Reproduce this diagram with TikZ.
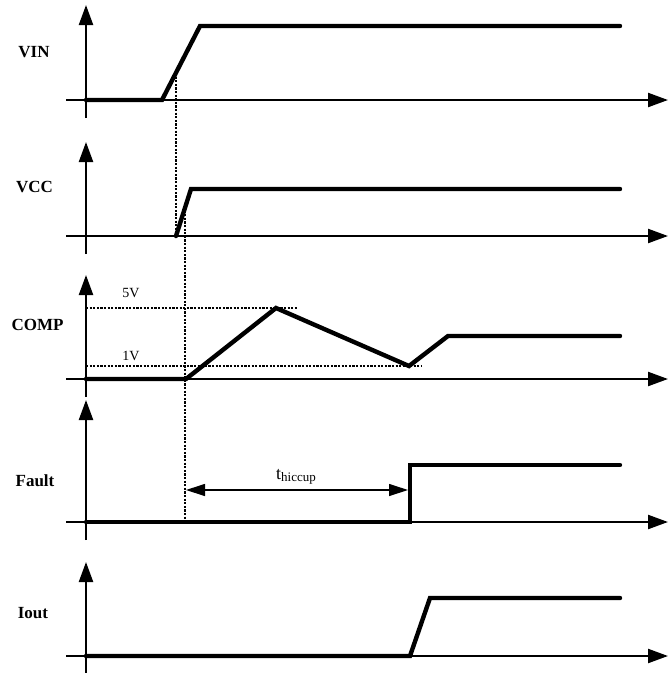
\documentclass[tikz,border=0pt]{standalone}
\usepackage{fontspec}
\setmainfont{Liberation Serif}
\usetikzlibrary{arrows.meta}
\begin{document}
\begin{tikzpicture}[x=1pt,y=-1pt,
  axis/.style={line width=2.3pt,-{Triangle[length=20pt,width=14pt]}},
  wave/.style={line width=4.4pt,line cap=round,line join=miter},
  guide/.style={line width=2.6pt,dash pattern=on 2.2pt off 1.4pt},
  span/.style={line width=1.2pt,{Triangle[length=19pt,width=12pt]}-{Triangle[length=19pt,width=12pt]}},
  lab/.style={font=\bfseries\fontsize{17}{17}\selectfont,inner sep=0pt},
  val/.style={font=\fontsize{14}{14}\selectfont,inner sep=0pt}]
\useasboundingbox (0,0) rectangle (668,673);
% axes
\foreach \n/\ax/\tp in {vin/100/5, vcc/236/142, comp/379/275, fault/522/400, iout/656/562}{
  \coordinate (\n-o) at (86,\ax);
  \coordinate (\n-top) at (86,\tp);
  \coordinate (\n-bot) at (86,\ax+18);
  \coordinate (\n-l) at (66,\ax);
  \coordinate (\n-r) at (668,\ax);
  \draw[axis] (\n-bot) -- (\n-top);
  \draw[axis] (\n-l) -- (\n-r);
}
% labels
\node[lab] (lvin) at (34,52) {VIN};
\node[lab] (lvcc) at (34.5,187) {VCC};
\node[lab] (lcomp) at (37.5,325) {COMP};
\node[lab] (lfault) at (35,481) {Fault};
\node[lab] (liout) at (33,613) {Iout};
% VIN
\coordinate (vin1) at (162,100);
\coordinate (vin2) at (200,26);
\coordinate (vin3) at (620,26);
\draw[wave] (vin-o) -- (vin1) -- (vin2) -- (vin3);
% VCC
\coordinate (vcc0) at (176,236);
\coordinate (vcc1) at (191,189);
\coordinate (vcc2) at (620,189);
\draw[wave] (vcc0) -- (vcc1) -- (vcc2);
% COMP
\coordinate (c1) at (186,379);
\coordinate (c2) at (276,308);
\coordinate (c3) at (409,366);
\coordinate (c4) at (448,336);
\coordinate (c5) at (620,336);
\coordinate (g5a) at (86,308);
\coordinate (g5b) at (297,308);
\coordinate (g1a) at (86,366);
\coordinate (g1b) at (421,366);
\draw[guide] (g5a) -- (g5b);
\draw[guide] (g1a) -- (g1b);
\node[val] (v5) at (131,293) {5V};
\node[val] (v1) at (131,356) {1V};
\draw[wave] (comp-o) -- (c1) -- (c2) -- (c3) -- (c4) -- (c5);
% Fault
\coordinate (f1) at (410,522);
\coordinate (f2) at (410,465);
\coordinate (f3) at (620,465);
\draw[wave] (fault-o) -- (f1) -- (f2) -- (f3);
% Iout
\coordinate (i1) at (410,656);
\coordinate (i2) at (430,598);
\coordinate (i3) at (620,598);
\draw[wave] (iout-o) -- (i1) -- (i2) -- (i3);
% vertical guides
\coordinate (d1a) at (176,73);
\coordinate (d1b) at (176,236);
\coordinate (d2a) at (185,207);
\coordinate (d2b) at (185,522);
\draw[guide] (d1a) -- (d1b);
\draw[guide] (d2a) -- (d2b);
% hiccup span
\coordinate (h1) at (186,490);
\coordinate (h2) at (408,490);
\draw[span] (h1) -- (h2);
\node[inner sep=0pt,anchor=base] (th) at (296,479) {\fontsize{18}{18}\selectfont t\raisebox{-0.3ex}{\fontsize{13}{13}\selectfont hiccup}};
\end{tikzpicture}
\end{document}
